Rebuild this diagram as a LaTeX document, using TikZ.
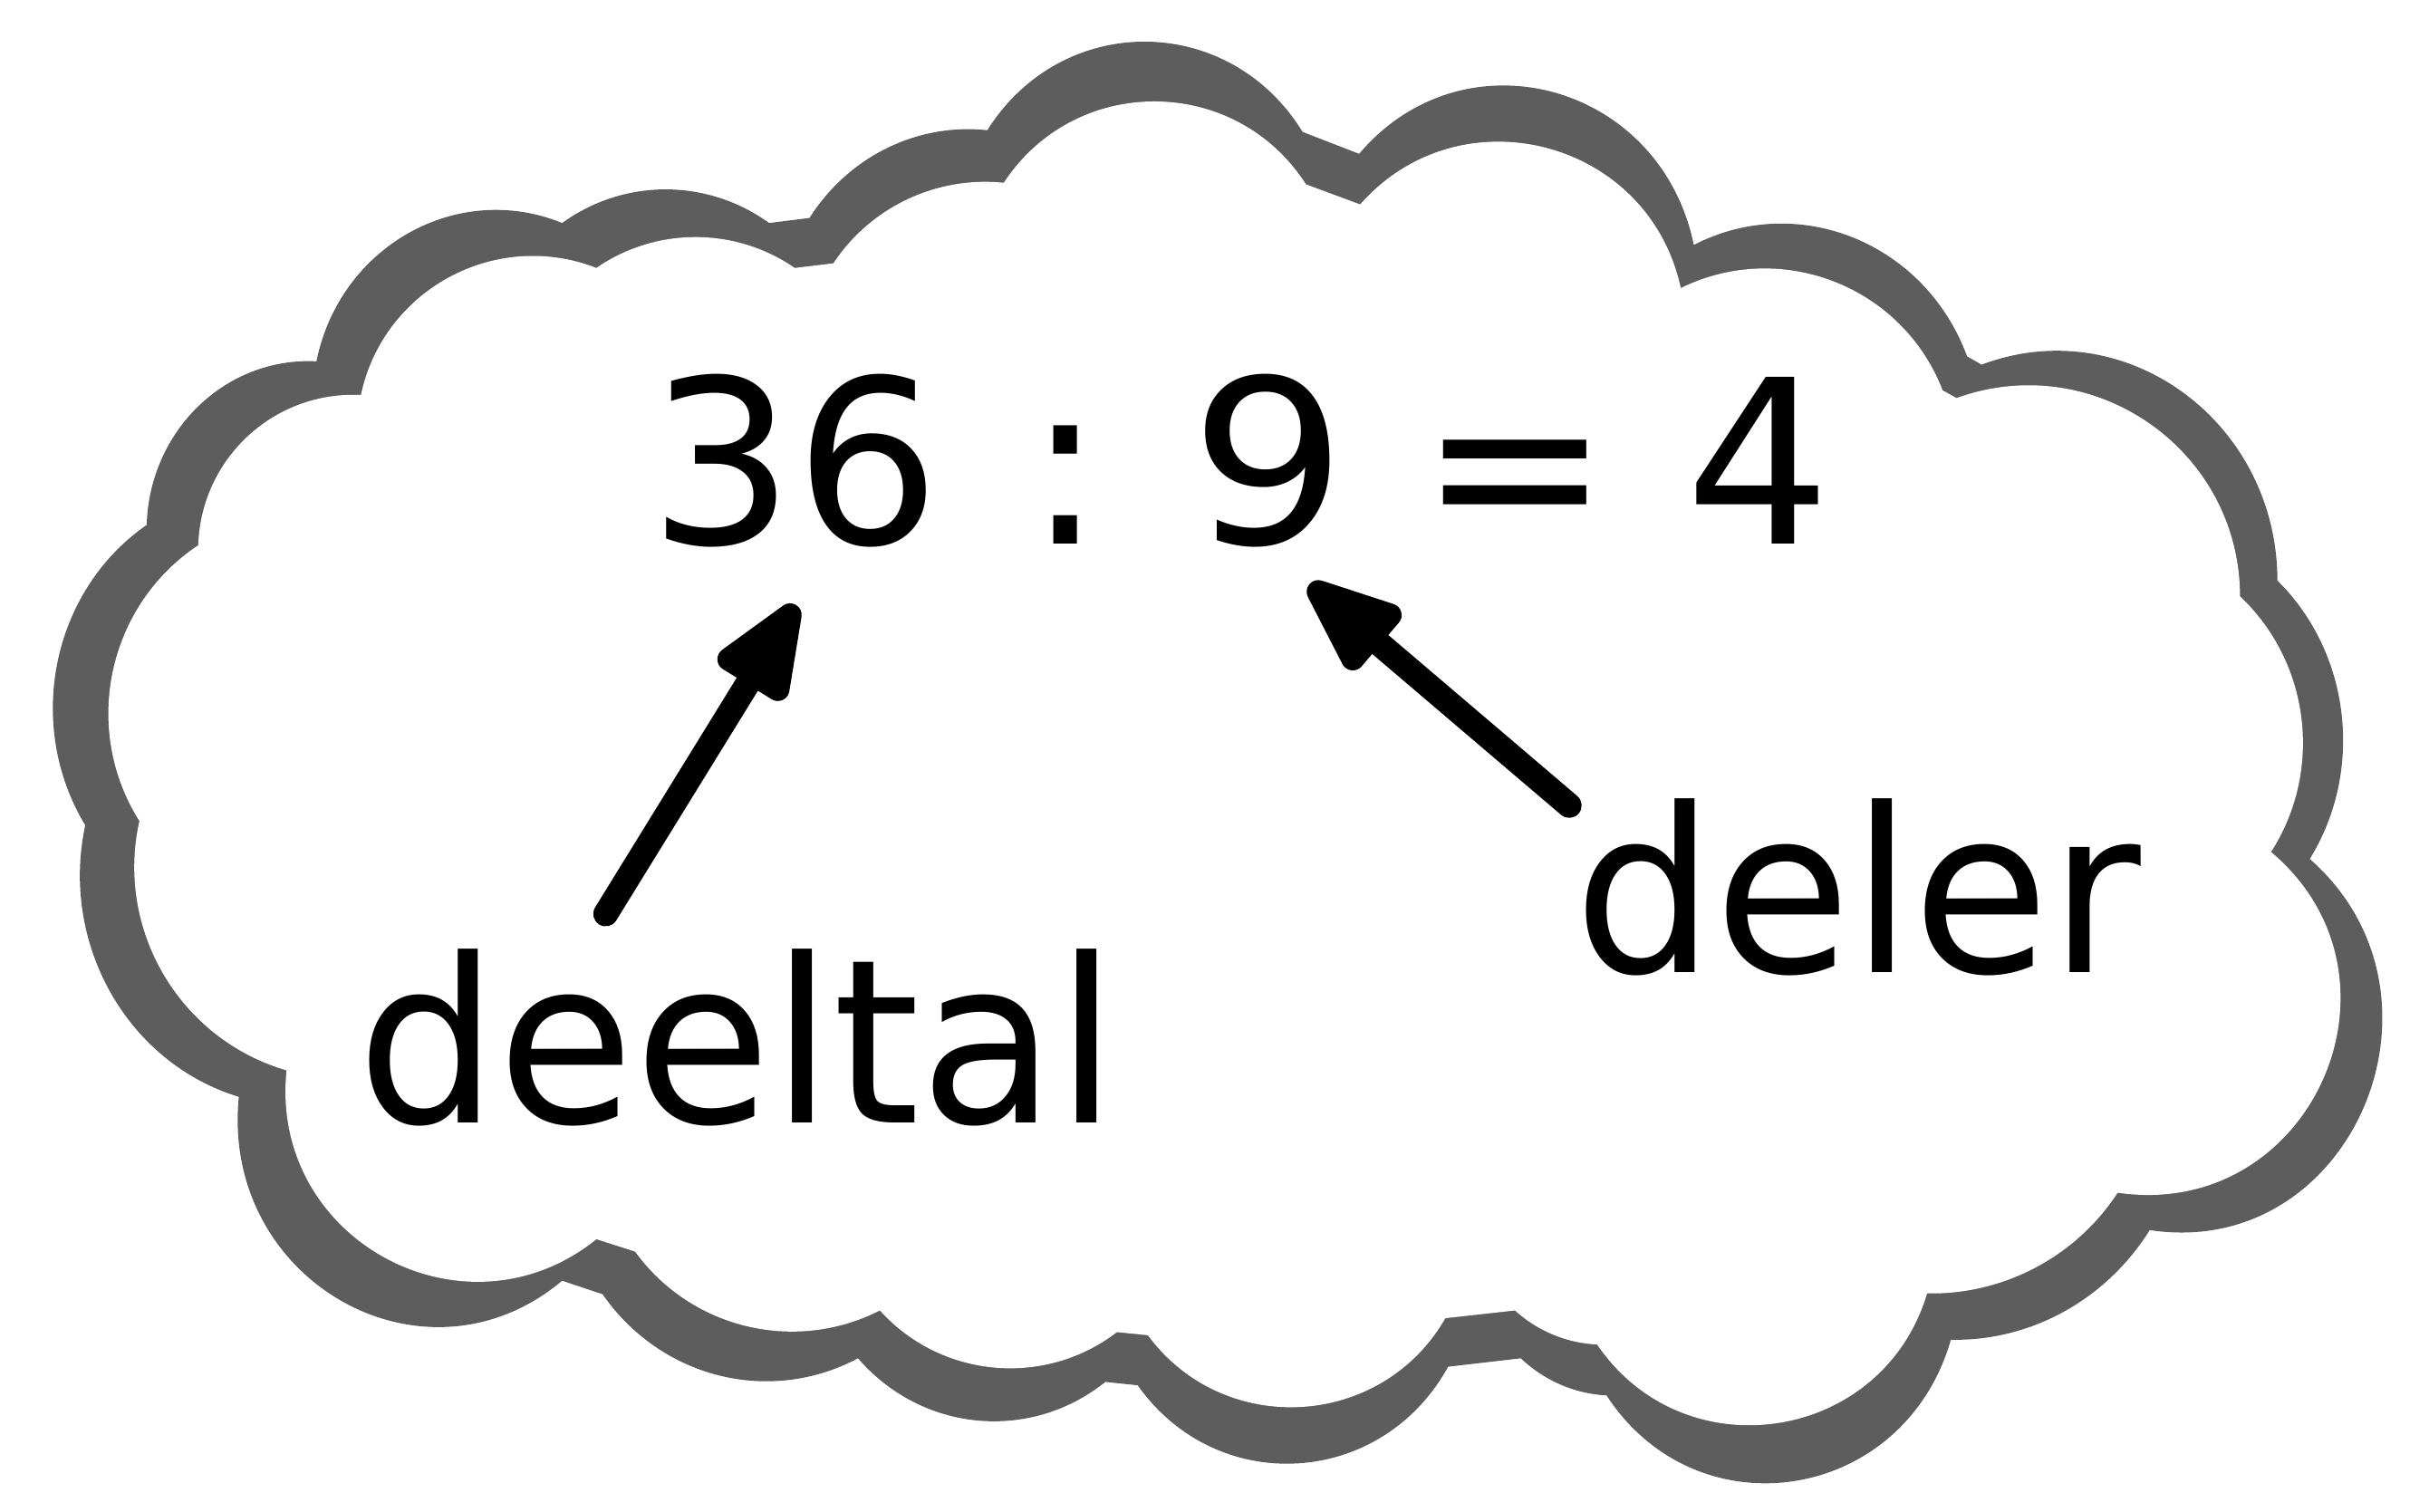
\documentclass[tikz,border=0pt]{standalone}
\usepackage{fontspec}
\setmainfont{DejaVu Sans}
\usetikzlibrary{calc}
\definecolor{cloudgray}{RGB}{93,93,93}
\newcommand\cloudpathX{(90,530) to[bend left=44.3,looseness=0.993] (128,352)
 to[bend left=45.5,looseness=1.002] (233,255)
 to[bend left=49.7,looseness=1.034] (385,173)
 to[bend left=34.7,looseness=0.935] (513,173) -- (538,170)
 to[bend left=31.2,looseness=0.918] (648,118)
 to[bend left=57.0,looseness=1.104] (843,119) -- (878,132)
 to[bend left=63.2,looseness=1.173] (1085,186)
 to[bend left=47.6,looseness=1.017] (1254,252) -- (1263,257)
 to[bend left=54.9,looseness=1.081] (1446,385)
 to[bend left=39.7,looseness=0.962] (1466,550)
 to[bend left=74.1,looseness=1.337] (1367,770)
 to[bend left=29.0,looseness=0.909] (1244,835)
 to[bend left=64.5,looseness=1.190] (1031,868)
 to[bend left=19.8,looseness=0.877] (978,846) -- (933,851)
 to[bend left=56.8,looseness=1.100] (741,862) -- (721,860)
 to[bend left=42.7,looseness=0.981] (568,846)
 to[bend left=40.5,looseness=0.968] (410,808) -- (385,800)
 to[bend left=67.4,looseness=1.230] (185,691)
 to[bend left=43.2,looseness=0.985] (90,530) -- cycle}
\tikzset{
  label/.style={font=\fontsize{42}{50}\selectfont, text=black, inner sep=0pt, anchor=base},
  shaft/.style={line width=0.16cm, line cap=round, black},
  head/.style={line width=0.15cm, line join=round, draw=black, fill=black}
}
\begin{document}
\begin{tikzpicture}[x=0.01cm, y=-0.01cm]
\useasboundingbox (0,0) rectangle (1568,976);
% shadow cloud
\begin{scope}[shift={(892,499)}, xscale=1.0436, yscale=1.089, shift={(-892,-499)}]
  \fill[cloudgray] \cloudpathX;
\end{scope}
% main cloud
\fill[white] \cloudpathX;
% equation
\node[label] (n36) at (513,351) {36};
\node[label] (colon) at (688,351) {:};
\node[label, xscale=1.08] (n9) at (819,351) {9};
\node[label] (equals) at (978,351) {=};
\node[label] (n4) at (1135,351) {4};
% labels
\node[label, xscale=0.97] (deeltal) at (476,725) {deeltal};
\node[label, xscale=0.97] (deler) at (1199,628) {deler};
% arrow to 36
\coordinate (tA) at (391,590);
\coordinate (hA) at (510,397);
\coordinate (bA) at ($(hA)!0.45cm!(tA)$);
\draw[shaft] (tA) -- (bA);
\filldraw[head] (hA) -- ($(bA)!0.185cm!90:(hA)$) -- ($(bA)!0.185cm!-90:(hA)$) -- cycle;
% arrow to 9
\coordinate (tB) at (1013,520);
\coordinate (hB) at (851,382);
\coordinate (bB) at ($(hB)!0.45cm!(tB)$);
\draw[shaft] (tB) -- (bB);
\filldraw[head] (hB) -- ($(bB)!0.185cm!90:(hB)$) -- ($(bB)!0.185cm!-90:(hB)$) -- cycle;
\end{tikzpicture}
\end{document}
